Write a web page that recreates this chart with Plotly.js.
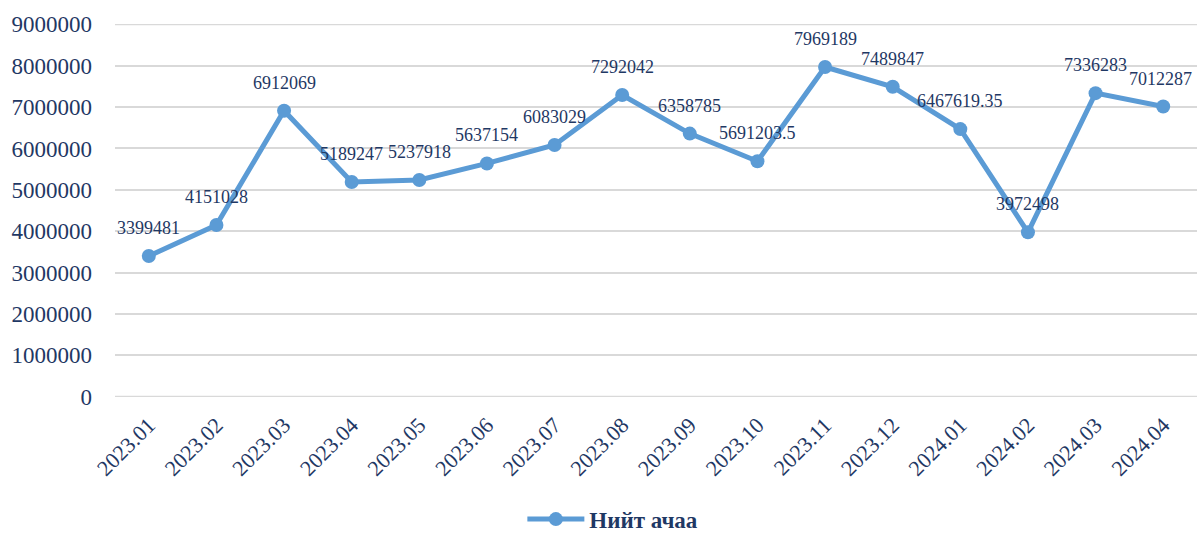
<!DOCTYPE html>
<html>
<head>
<meta charset="utf-8">
<script src="https://cdn.plot.ly/plotly-3.0.1.min.js"></script>
<style>html,body{margin:0;padding:0;background:#fff;}#chart{width:1197px;height:533px;}</style>
</head>
<body>
<div id="chart"></div>
<script>
const categories = ["2023.01","2023.02","2023.03","2023.04","2023.05","2023.06","2023.07","2023.08","2023.09","2023.10","2023.11","2023.12","2024.01","2024.02","2024.03","2024.04"];
const values = [3399481,4151028,6912069,5189247,5237918,5637154,6083029,7292042,6358785,5691203.5,7969189,7489847,6467619.35,3972498,7336283,7012287];
const seriesName = "Нийт ачаа";
const yTicks = [0,1000000,2000000,3000000,4000000,5000000,6000000,7000000,8000000,9000000];

const navy = "#1F3864";
const gridColor = "#D9D9D9";
const fontFam = "Liberation Serif, Times New Roman, serif";
const idx = categories.map((c, i) => i);

const annotations = values.map((v, i) => ({
  x: idx[i], y: v, xref: "x", yref: "y",
  text: String(v), showarrow: false,
  yanchor: "bottom", yshift: 16,
  xshift: i === values.length - 1 ? -3 : 0,
  font: {family: fontFam, size: 18, color: navy}
}));

// edge gridlines (Plotly hides grid lines lying on the range ends)
const edgeShapes = [yTicks[0], yTicks[yTicks.length - 1]].map(v => ({
  type: "line", xref: "paper", yref: "y", x0: 0, x1: 1, y0: v, y1: v,
  line: {color: gridColor, width: 2}, layer: "below"
}));

const trace = {
  x: idx, y: values, name: seriesName,
  type: "scatter", mode: "lines+markers",
  line: {color: "#5B9BD5", width: 5},
  marker: {color: "#5B9BD5", size: 14},
  cliponaxis: false
};

const layout = {
  width: 1197, height: 533,
  margin: {l: 115, r: 0, t: 24, b: 136},
  paper_bgcolor: "#fff", plot_bgcolor: "#fff",
  showlegend: true,
  legend: {orientation: "h", x: 0.512, xref: "container", xanchor: "center",
    y: 0.026, yref: "container", yanchor: "middle", itemwidth: 57,
    font: {family: fontFam, size: 23, color: navy, weight: "bold"}},
  xaxis: {type: "linear", range: [-0.5, categories.length - 0.5], tickvals: idx, ticktext: categories,
    tickangle: -45, showgrid: false, zeroline: false, showline: false,
    ticks: "", ticklabelstandoff: 10, tickfont: {family: fontFam, size: 22, color: navy}, automargin: false},
  yaxis: {range: [-8000, 9008000], tickvals: yTicks, ticktext: yTicks.map(String),
    showgrid: true, gridcolor: gridColor, gridwidth: 2, zeroline: false, showline: false,
    ticks: "", ticklabelstandoff: 22, tickfont: {family: fontFam, size: 23, color: navy}, automargin: false},
  shapes: edgeShapes,
  annotations: annotations
};

Plotly.newPlot("chart", [trace], layout, {displayModeBar: false, staticPlot: true});
</script>
</body>
</html>
